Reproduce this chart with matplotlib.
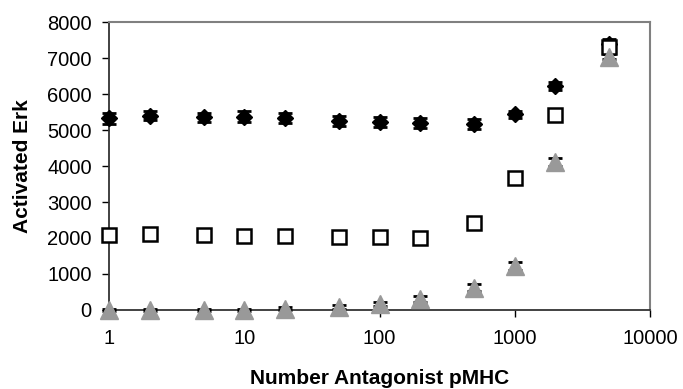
import matplotlib
matplotlib.use('Agg')
import matplotlib.pyplot as plt

plt.rcParams['font.family'] = ['Liberation Sans', 'DejaVu Sans']

# number of antagonist pMHC
antagonist = [1, 2, 5, 10, 20, 50, 100, 200, 500, 1000, 2000, 5000]

# activated Erk, three conditions
erk_diamond = [5320, 5400, 5350, 5370, 5340, 5250, 5230, 5200, 5170, 5440, 6220, 7400]
err_diamond = [150, 130, 130, 160, 140, 150, 140, 140, 140, 100, 110, 120]
erk_square = [2080, 2120, 2070, 2060, 2060, 2040, 2030, 2010, 2420, 3660, 5430, 7300]
err_square = [40, 40, 40, 40, 40, 40, 40, 40, 40, 40, 40, 120]
erk_triangle = [0, 0, 0, 0, 30, 80, 160, 300, 620, 1230, 4110, 7040]
err_triangle = [30, 30, 30, 30, 40, 50, 60, 80, 90, 110, 100, 80]

fig = plt.figure(figsize=(6.83, 3.89), dpi=100)
ax = fig.add_axes([0.1596, 0.2031, 0.7921, 0.7403])

ax.errorbar(antagonist, erk_diamond, yerr=err_diamond, fmt='D', color='black',
            markersize=8, capsize=5, elinewidth=1.5, capthick=2, clip_on=False, zorder=3)
ax.errorbar(antagonist, erk_square, yerr=err_square, fmt='s', color='black',
            markerfacecolor='white', markeredgewidth=1.8, markersize=10,
            capsize=5, elinewidth=1.5, capthick=2, clip_on=False, zorder=4)
ax.errorbar(antagonist, erk_triangle, yerr=err_triangle, fmt='none', ecolor='black',
            capsize=5, elinewidth=1.5, capthick=2, clip_on=False, zorder=4)
ax.plot(antagonist, erk_triangle, '^', color='#999999', markersize=13,
        clip_on=False, zorder=5)

ax.set_xscale('log')
ax.set_xlim(1, 10000)
ax.set_ylim(0, 8000)
ax.set_yticks(range(0, 8001, 1000))
ax.set_xticks([1, 10, 100, 1000, 10000])
ax.set_xticklabels(['1', '10', '100', '1000', '10000'])
ax.minorticks_off()

ax.tick_params(axis='both', labelsize=14.5, direction='out', length=5, width=1)
ax.tick_params(axis='x', pad=9)
ax.tick_params(axis='y', pad=7.5)

ax.set_xlabel('Number Antagonist pMHC', fontsize=15, fontweight='bold')
ax.set_ylabel('Activated Erk', fontsize=15, fontweight='bold')
ax.xaxis.set_label_coords(0.501, -0.205)
ax.yaxis.set_label_coords(-0.143, 0.5)

for side in ['top', 'right']:
    ax.spines[side].set_color('#808080')
    ax.spines[side].set_linewidth(1.5)
for side in ['left', 'bottom']:
    ax.spines[side].set_color('#333333')
    ax.spines[side].set_linewidth(1.3)

fig.savefig('out.png', dpi=100)
